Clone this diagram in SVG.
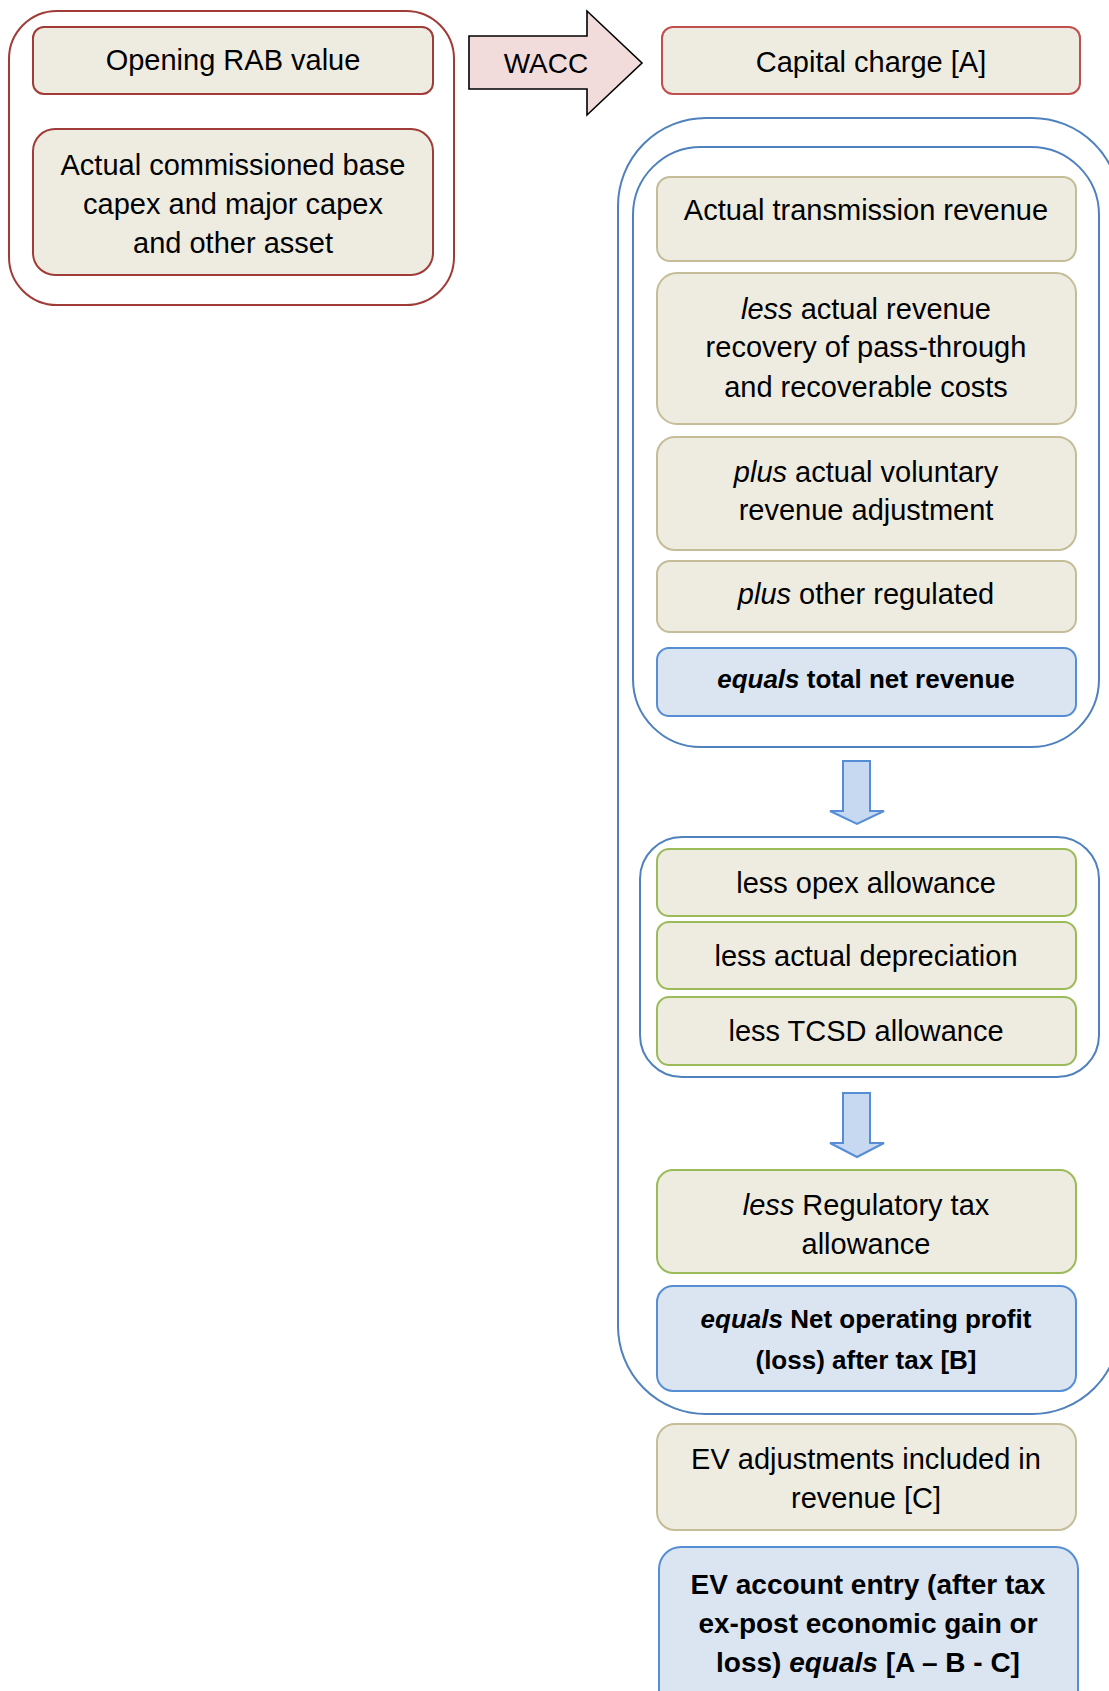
<svg xmlns="http://www.w3.org/2000/svg" width="1109" height="1691" viewBox="0 0 1109 1691">
<style>
text{font-family:"Liberation Sans",Arial,sans-serif;font-size:29px;fill:#000;text-anchor:middle}
.b{font-weight:bold;font-size:26px}
.bb{font-weight:bold;font-size:28px}
.i{font-style:italic}
.beige{fill:#EEECE1;stroke:#C4BD97;stroke-width:2}
.green{fill:#EEECE1;stroke:#9BBB59;stroke-width:2}
.blue{fill:#DBE5F1;stroke:#558ED5;stroke-width:2}
.grp{fill:none;stroke:#4F81BD;stroke-width:2}
.dred{fill:#EEECE1;stroke:#A03B38;stroke-width:2}
.red{fill:#EEECE1;stroke:#C0504D;stroke-width:2}
.barrow{fill:#C6D9F1;stroke:#558ED5;stroke-width:2}
</style>
<rect width="1109" height="1691" fill="#fff"/>
<g id="rab-group">
<rect x="9" y="11" width="445" height="294" rx="48" fill="#fff" stroke="#A03B38" stroke-width="2"/>
</g>
<g id="opening-rab">
<rect class="dred" x="33" y="27" width="400" height="67" rx="11"/>
<text x="233" y="70">Opening RAB value</text>
</g>
<g id="commissioned-capex">
<rect class="dred" x="33" y="129" width="400" height="146" rx="22"/>
<text x="233" y="175">Actual commissioned base</text>
<text x="233" y="214">capex and major capex</text>
<text x="233" y="253">and other asset</text>
</g>
<g id="capital-charge">
<rect class="red" x="662" y="27" width="418" height="67" rx="11"/>
<text x="871" y="72">Capital charge [A]</text>
</g>
<g id="outer-group">
<rect class="grp" x="618" y="118" width="502" height="1296" rx="88"/>
</g>
<g id="revenue-group">
<rect class="grp" x="633" y="147" width="466" height="600" rx="68"/>
</g>
<g id="transmission-revenue">
<rect class="beige" x="657" y="177" width="419" height="84" rx="13"/>
<text x="866" y="220">Actual transmission revenue</text>
</g>
<g id="pass-through">
<rect class="beige" x="657" y="273" width="419" height="151" rx="20"/>
<text x="866" y="319"><tspan class="i">less</tspan> actual revenue</text>
<text x="866" y="357">recovery of pass-through</text>
<text x="866" y="397">and recoverable costs</text>
</g>
<g id="voluntary-adjustment">
<rect class="beige" x="657" y="437" width="419" height="113" rx="18"/>
<text x="866" y="482"><tspan class="i">plus</tspan> actual voluntary</text>
<text x="866" y="520">revenue adjustment</text>
</g>
<g id="other-regulated">
<rect class="beige" x="657" y="561" width="419" height="71" rx="13"/>
<text x="866" y="604"><tspan class="i">plus</tspan> other regulated</text>
</g>
<g id="total-net-revenue">
<rect class="blue" x="657" y="648" width="419" height="68" rx="12"/>
<text class="b" x="866" y="688"><tspan class="i">equals</tspan> total net revenue</text>
</g>
<g id="cost-group">
<rect class="grp" x="640" y="837" width="459" height="240" rx="42"/>
</g>
<g id="opex">
<rect class="green" x="657" y="849" width="419" height="67" rx="12"/>
<text x="866" y="893">less opex allowance</text>
</g>
<g id="depreciation">
<rect class="green" x="657" y="922" width="419" height="67" rx="12"/>
<text x="866" y="966">less actual depreciation</text>
</g>
<g id="tcsd">
<rect class="green" x="657" y="997" width="419" height="68" rx="12"/>
<text x="866" y="1041">less TCSD allowance</text>
</g>
<g id="tax-allowance">
<rect class="green" x="657" y="1170" width="419" height="103" rx="16"/>
<text x="866" y="1215"><tspan class="i">less</tspan> Regulatory tax</text>
<text x="866" y="1254">allowance</text>
</g>
<g id="nopat">
<rect class="blue" x="657" y="1286" width="419" height="105" rx="16"/>
<text class="b" x="866" y="1328"><tspan class="i">equals</tspan> Net operating profit</text>
<text class="b" x="866" y="1369">(loss) after tax [B]</text>
</g>
<g id="ev-adjustments">
<rect class="beige" x="657" y="1424" width="419" height="106" rx="18"/>
<text x="866" y="1469">EV adjustments included in</text>
<text x="866" y="1508">revenue [C]</text>
</g>
<g id="ev-account">
<rect class="blue" x="659" y="1547" width="419" height="190" rx="22"/>
<text class="bb" x="868" y="1594">EV account entry (after tax</text>
<text class="bb" x="868" y="1633">ex-post economic gain or</text>
<text class="bb" x="868" y="1672">loss) <tspan class="i">equals</tspan> [A – B - C]</text>
</g>
<g id="connectors">
<path d="M469,36 L587,36 L587,11 L642,63 L587,115 L587,89 L469,89 Z" fill="#F2DCDB" stroke="#000" stroke-width="1.6"/>
<text x="546" y="73" style="font-size:28px">WACC</text>
<path class="barrow" d="M843,761 L870,761 L870,811 L884,811 L857,824 L830,811 L843,811 Z"/>
<path class="barrow" d="M843,1093 L870,1093 L870,1143 L884,1143 L857,1157 L830,1143 L843,1143 Z"/>
</g>
</svg>
